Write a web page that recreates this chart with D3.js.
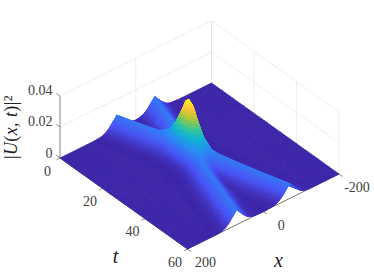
<!DOCTYPE html>
<html>
<head>
<meta charset="utf-8">
<script src="https://cdn.jsdelivr.net/npm/d3@7"></script>
<style>
html, body { margin: 0; padding: 0; background: #fff; }
svg { display: block; }
text { font-family: "Liberation Serif", serif; }
</style>
</head>
<body>
<div class="chart-svg"></div>
<script>
// surface samples, the picture is mirror symmetric in x
var xSamples = [0, 5, 10, 20, 30, 40, 50, 60, 70, 80, 90, 100, 110, 120, 130, 200];
var tSamples = [0, 5, 10, 15, 17.5, 20, 22.5, 23.75, 25, 26.25, 27.5, 30, 32.5, 35, 40, 45, 50, 55, 60];
// |U|^2 in units of 1e-4, one row per t, one column per |x|
var zRows = [
    [2, 3, 6, 15, 36, 65, 95, 65, 36, 15, 4, 1, 0, 0, 0, 0],
    [8, 9, 14, 36, 65, 97, 65, 36, 15, 4, 1, 0, 0, 0, 0, 0],
    [20, 24, 36, 65, 100, 65, 36, 15, 4, 1, 0, 0, 0, 0, 0, 0],
    [75, 78, 85, 105, 72, 36, 15, 4, 1, 0, 0, 0, 0, 0, 0, 0],
    [125, 128, 128, 100, 52, 24, 9, 2.5, 0.5, 0, 0, 0, 0, 0, 0, 0],
    [205, 198, 178, 105, 44, 18, 6, 1.5, 0.3, 0, 0, 0, 0, 0, 0, 0],
    [310, 290, 240, 115, 42, 14, 4, 1, 0, 0, 0, 0, 0, 0, 0, 0],
    [362, 335, 265, 122, 44, 14, 4, 1, 0, 0, 0, 0, 0, 0, 0, 0],
    [380, 345, 268, 125, 46, 14, 4, 1, 0, 0, 0, 0, 0, 0, 0, 0],
    [362, 335, 265, 122, 44, 14, 4, 1, 0, 0, 0, 0, 0, 0, 0, 0],
    [310, 290, 240, 115, 42, 14, 4, 1, 0, 0, 0, 0, 0, 0, 0, 0],
    [205, 198, 178, 105, 44, 18, 6, 1.5, 0.3, 0, 0, 0, 0, 0, 0, 0],
    [125, 128, 128, 100, 52, 24, 9, 2.5, 0.5, 0, 0, 0, 0, 0, 0, 0],
    [75, 78, 85, 105, 72, 36, 15, 4, 1, 0, 0, 0, 0, 0, 0, 0],
    [20, 24, 36, 65, 100, 65, 36, 15, 4, 1, 0, 0, 0, 0, 0, 0],
    [8, 9, 14, 36, 65, 97, 65, 36, 15, 4, 1, 0, 0, 0, 0, 0],
    [4, 5, 8, 16, 36, 65, 95, 65, 36, 15, 4, 1, 0, 0, 0, 0],
    [0.5, 1, 2, 4, 15, 36, 65, 95, 65, 36, 15, 4, 1, 0, 0, 0],
    [0, 0, 0.5, 1, 4, 15, 36, 65, 95, 65, 36, 15, 4, 1, 0, 0]
];

var xTicks = [-200, 0, 200];
var tTicks = [0, 20, 40, 60];
var zTicks = [0, 0.02, 0.04];
var xTickLabels = ['-200', '0', '200'];
var tTickLabels = ['0', '20', '40', '60'];
var zTickLabels = ['0', '0.02', '0.04'];

var parulaStops = [0, 0.12, 0.3, 0.45, 0.58, 0.72, 0.87, 1];
var parulaColors = ['#3e26a8', '#4852f4', '#2d87f5', '#11b1d6', '#37c897', '#abc739', '#fec338', '#f9fb15'];

var svgWidth = 374;
var svgHeight = 280;

var svg = d3.select(".chart-svg")
        .append("svg")
        .attr("width", svgWidth)
        .attr("height", svgHeight);

// oblique axes, the picture is an orthographic view so every axis is a straight shift
var xAcrossX = d3.scaleLinear().domain([200, -200]).range([0, 151.5]);
var xAcrossY = d3.scaleLinear().domain([200, -200]).range([0, -75]);
var tAcrossX = d3.scaleLinear().domain([0, 60]).range([0, 127.5]);
var tAcrossY = d3.scaleLinear().domain([0, 60]).range([0, 91]);
var zUp = d3.scaleLinear().domain([0, 0.04]).range([0, 62]);

var colorScale = d3.scaleLinear()
    .domain(parulaStops.map(function(d){ return d * 0.038; }))
    .range(parulaColors)
    .clamp(true);

function project(x, t, z){
    return [60 + xAcrossX(x) + tAcrossX(t), 158 + xAcrossY(x) + tAcrossY(t) - zUp(z)];
}

function line3d(g, a, b, color, width){
    var p = project(a[0], a[1], a[2]);
    var q = project(b[0], b[1], b[2]);
    g.append("line")
        .attr("x1", p[0]).attr("y1", p[1])
        .attr("x2", q[0]).attr("y2", q[1])
        .attr("stroke", color)
        .attr("stroke-width", width);
}

// back walls
var walls = svg.append("g").attr("class", "walls");
zTicks.slice(1).forEach(function(z){
    line3d(walls, [200, 0, z], [-200, 0, z], "#e8e8e8", 0.7);
    line3d(walls, [-200, 0, z], [-200, 60, z], "#e8e8e8", 0.7);
});
line3d(walls, [0, 0, 0], [0, 0, 0.04], "#e8e8e8", 0.7);
line3d(walls, [-200, 0, 0], [-200, 0, 0.04], "#e2e2e2", 1);
tTicks.slice(1).forEach(function(t){
    line3d(walls, [-200, t, 0], [-200, t, 0.04], "#e8e8e8", 0.7);
});

// axis lines and ticks
var axes = svg.append("g").attr("class", "axes");
line3d(axes, [200, 0, 0], [200, 0, 0.04], "#6a6a6a", 0.8);
line3d(axes, [200, 0, 0], [200, 60, 0], "#555", 0.8);
line3d(axes, [200, 60, 0], [-200, 60, 0], "#555", 0.8);
zTicks.forEach(function(z){
    line3d(axes, [200, 0, z], [200, -1.7, z], "#6a6a6a", 0.8);
});
tTicks.forEach(function(t){
    line3d(axes, [200, t, 0], [209, t, 0], "#6a6a6a", 0.8);
});
xTicks.forEach(function(x){
    line3d(axes, [x, 60, 0], [x, 61.7, 0], "#6a6a6a", 0.8);
});

// all x columns, mirrored around 0
var xAll = xSamples.slice(1).reverse().map(function(d){ return -d; }).concat(xSamples);

function zAt(i, j){
    var col = xSamples.indexOf(Math.abs(xAll[j]));
    return zRows[i][col] * 1e-4;
}

// triangles, each quad is split along its higher diagonal so ridges stay sharp
var triangles = [];
var subdivisions = 4;

function addTriangle(a, b, c){
    if (a[2] == 0 && b[2] == 0 && c[2] == 0){
        triangles.push([a, b, c]);
        return;
    }
    function mix(u, v){
        var w = subdivisions - u - v;
        return [0, 1, 2].map(function(k){
            return (a[k] * u + b[k] * v + c[k] * w) / subdivisions;
        });
    }
    for (var u = 0; u < subdivisions; u++){
        for (var v = 0; v < subdivisions - u; v++){
            triangles.push([mix(u, v), mix(u + 1, v), mix(u, v + 1)]);
            if (u + v < subdivisions - 1){
                triangles.push([mix(u + 1, v), mix(u + 1, v + 1), mix(u, v + 1)]);
            }
        }
    }
}

tSamples.slice(0, -1).forEach(function(t0, i){
    var t1 = tSamples[i + 1];
    xAll.slice(0, -1).forEach(function(x0, j){
        var x1 = xAll[j + 1];
        var p00 = [x0, t0, zAt(i, j)];
        var p01 = [x1, t0, zAt(i, j + 1)];
        var p10 = [x0, t1, zAt(i + 1, j)];
        var p11 = [x1, t1, zAt(i + 1, j + 1)];
        if (p00[2] + p11[2] >= p01[2] + p10[2]){
            addTriangle(p00, p01, p11);
            addTriangle(p00, p11, p10);
        } else {
            addTriangle(p00, p01, p10);
            addTriangle(p01, p11, p10);
        }
    });
});

// painter order, far corner of the floor first
function depth(tri){
    return d3.mean(tri, function(p){ return project(p[0], p[1], 0)[1]; });
}
triangles.sort(function(a, b){ return depth(a) - depth(b); });

svg.append("g")
    .attr("class", "surface")
    .selectAll("polygon")
    .data(triangles)
    .enter()
    .append("polygon")
    .attr("points", function(d){
        return d.map(function(p){ return project(p[0], p[1], p[2]).join(","); }).join(" ");
    })
    .attr("fill", function(d){
        return colorScale(d3.mean(d, function(p){ return p[2]; }));
    })
    .attr("stroke", function(d){
        return colorScale(d3.mean(d, function(p){ return p[2]; }));
    })
    .attr("stroke-width", 0.8)
    .attr("stroke-linejoin", "round");

// tick labels
var labels = svg.append("g")
    .attr("class", "labels")
    .attr("fill", "#404040")
    .attr("font-size", 14);

zTicks.forEach(function(z, i){
    var p = project(200, 0, z);
    labels.append("text")
        .attr("x", p[0] - 7.5)
        .attr("y", p[1] + (i == 0 ? -0.5 : -1))
        .attr("text-anchor", "end")
        .text(zTickLabels[i]);
});
tTicks.forEach(function(t, i){
    var p = project(200, t, 0);
    labels.append("text")
        .attr("x", p[0] - 12.5)
        .attr("y", p[1] + 17.5)
        .attr("text-anchor", "middle")
        .text(tTickLabels[i]);
});
xTicks.forEach(function(x, i){
    var p = project(x, 60, 0);
    labels.append("text")
        .attr("x", p[0] + 18)
        .attr("y", p[1] + 18)
        .attr("text-anchor", "middle")
        .text(xTickLabels[i]);
});

// axis titles
svg.append("text")
    .attr("x", 115.5)
    .attr("y", 263)
    .attr("text-anchor", "middle")
    .attr("font-size", 20)
    .attr("font-style", "italic")
    .attr("fill", "#222")
    .text("t");
svg.append("text")
    .attr("x", 278.5)
    .attr("y", 267)
    .attr("text-anchor", "middle")
    .attr("font-size", 20)
    .attr("font-style", "italic")
    .attr("fill", "#222")
    .text("x");

var zTitle = svg.append("text")
    .attr("transform", "translate(17,127) rotate(-90)")
    .attr("text-anchor", "middle")
    .attr("font-size", 18)
    .attr("letter-spacing", 0.4)
    .attr("fill", "#222");
zTitle.append("tspan").text("|");
zTitle.append("tspan").attr("font-style", "italic").text("U");
zTitle.append("tspan").text("(");
zTitle.append("tspan").attr("font-style", "italic").text("x, t");
zTitle.append("tspan").text(")|");
zTitle.append("tspan").attr("font-size", 12).attr("dy", -5).text("2");
</script>
</body>
</html>
